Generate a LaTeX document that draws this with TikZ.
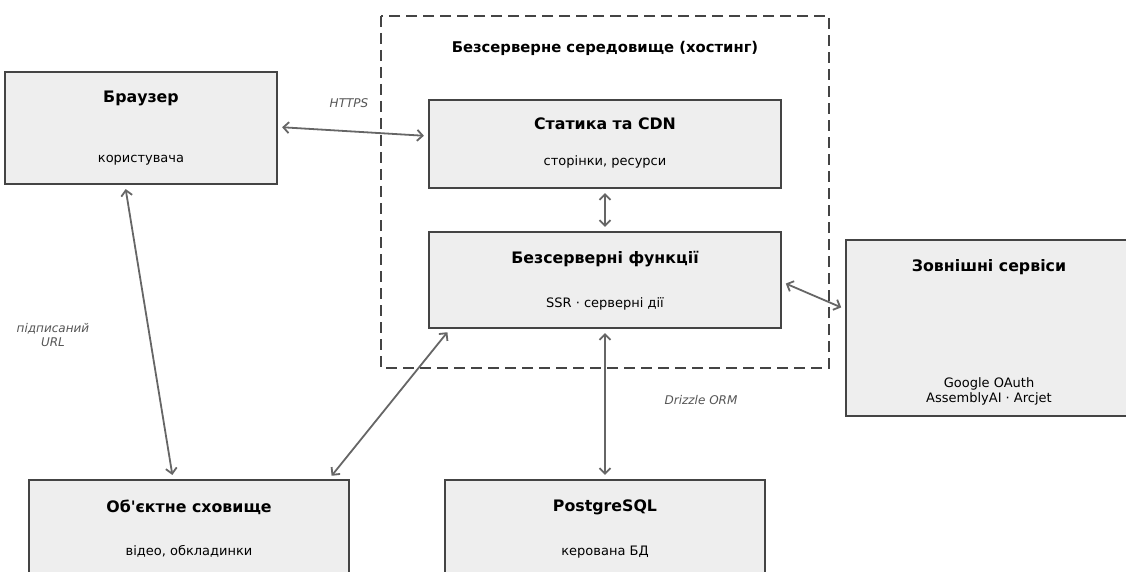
\documentclass[tikz,border=0pt]{standalone}
\usepackage{fontspec}
\setmainfont{DejaVu Sans}[Ligatures=TeXOff]
\usetikzlibrary{arrows.meta}
\definecolor{boxfill}{HTML}{EEEEEE}
\definecolor{boxline}{HTML}{444444}
\definecolor{linkc}{HTML}{666666}
\definecolor{labelc}{HTML}{555555}
\tikzset{
  block/.style={draw=boxline, line width=2.2pt, fill=boxfill, inner sep=0pt},
  ttl/.style={font=\fontsize{15.8}{18}\selectfont\bfseries, inner sep=0pt, anchor=base},
  sub/.style={font=\fontsize{13}{15}\selectfont, inner sep=0pt, anchor=base},
  lbl/.style={font=\fontsize{12}{14}\selectfont\itshape, text=labelc, inner sep=0pt, anchor=base},
  link/.style={draw=linkc, line width=1.8pt, {Straight Barb[length=5.5pt,width=11pt]}-{Straight Barb[length=5.5pt,width=11pt]}, shorten <=4pt, shorten >=4pt},
}
\begin{document}
\begin{tikzpicture}[x=1pt, y=-1pt]
  \useasboundingbox (0,0) rectangle (1126,572);

  % hosting area
  \draw[draw=boxline, line width=2.4pt, dash pattern=on 11pt off 6pt] (381,16) rectangle (829,368);
  \node[ttl, font=\fontsize{14.8}{17}\selectfont\bfseries] (hosttitle) at (605,52.5) {Безсерверне середовище (хостинг)};

  % boxes
  \node[block, minimum width=272pt, minimum height=112pt] (browser) at (141,128) {};
  \node[ttl] (browsert) at (141,103) {Браузер};
  \node[sub] (browsers) at (141,162.5) {користувача};

  \node[block, minimum width=352pt, minimum height=88pt] (cdn) at (605,144) {};
  \node[ttl] (cdnt) at (605,130) {Статика та CDN};
  \node[sub] (cdns) at (605,166) {сторінки, ресурси};

  \node[block, minimum width=352pt, minimum height=96pt] (fn) at (605,280) {};
  \node[ttl] (fnt) at (605,263) {Безсерверні функції};
  \node[sub] (fns) at (605,307) {SSR · серверні дії};

  \node[block, minimum width=286pt, minimum height=176pt] (ext) at (989,328) {};
  \node[ttl] (extt) at (989,271) {Зовнішні сервіси};
  \node[sub] (exts1) at (989,387) {Google OAuth};
  \node[sub] (exts2) at (989,402) {AssemblyAI · Arcjet};

  \node[block, minimum width=320pt, minimum height=112pt] (obj) at (189,536) {};
  \node[ttl] (objt) at (189,512) {Об'єктне сховище};
  \node[sub] (objs) at (189,555) {відео, обкладинки};

  \node[block, minimum width=320pt, minimum height=112pt] (pg) at (605,536) {};
  \node[ttl] (pgt) at (605,511) {PostgreSQL};
  \node[sub] (pgs) at (605,555) {керована БД};

  % connectors
  \draw[link] ([yshift=1pt]browser.east) -- ([yshift=8pt]cdn.west);
  \draw[link] (cdn.south) -- (fn.north);
  \draw[link] ([yshift=-2pt]fn.east) -- ([yshift=19pt]ext.west);
  \draw[link] ([xshift=-16pt]browser.south) -- ([xshift=-16pt]obj.north);
  \draw[link] ([xshift=22pt]fn.south west) -- ([xshift=-21pt]obj.north east);
  \draw[link] (fn.south) -- (pg.north);

  % connector labels
  \node[lbl] (https) at (349,107.5) {HTTPS};
  \node[lbl] (signed1) at (53,332) {підписаний};
  \node[lbl] (signed2) at (53,346.5) {URL};
  \node[lbl] (orm) at (701,404.5) {Drizzle ORM};
\end{tikzpicture}
\end{document}
